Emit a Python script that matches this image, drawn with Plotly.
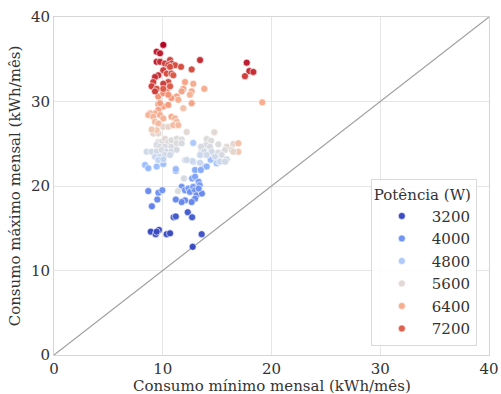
import plotly.graph_objects as go
from plotly.colors import sample_colorscale

# ---- data ----
consumo_min = [
    # ~3200 W
    8.9, 9.35, 9.65, 10.36, 10.67, 13.58, 12.75, 11.0, 11.2, 12.3, 12.7, 9.44,
    # ~4000 W
    8.67, 9.6, 9.96, 9.5, 9.0, 11.2, 11.74, 12.05, 12.35, 12.5, 12.8, 12.97, 12.7, 12.97,
    13.3, 13.4, 13.1, 13.6, 12.97, 12.66, 12.05, 11.74, 11.2, 13.7, 12.97, 13.3, 11.95, 11.4,
    # ~4800 W
    8.37, 8.67, 9.44, 10.05, 11.2, 12.8, 14.4, 14.96, 15.1, 14.04, 13.5, 12.81,
    # ~5600 W (cluster 1)
    9.13, 9.59, 10.05, 10.51, 9.59, 9.9, 10.2, 10.51, 10.8, 11.28, 11.74, 9.44, 9.75, 10.2,
    10.8, 11.28, 11.74, 8.52, 8.98, 9.44, 9.9, 10.36, 10.8, 11.28, 9.29, 9.75, 10.2, 10.67,
    9.59, 10.05, 12.05, 12.72, 13.89, 13.58, 13.89, 14.65,
    # ~5600 W (cluster 2)
    12.2, 14.74, 14.04, 14.44, 15.11, 13.98, 13.52, 14.34, 15.88, 16.49, 13.82, 14.5, 15.11,
    15.72, 16.34, 16.95, 16.95, 16.49, 13.43, 14.04, 14.8, 15.42, 15.88, 15.26, 15.72, 13.43, 12.2,
    # ~6400 W
    9.59, 10.05, 10.51, 9.59, 9.29, 8.83, 8.67, 9.13, 9.75, 10.05, 9.29, 9.59, 9.44, 8.98,
    10.8, 11.13, 11.28, 10.97, 11.43, 12.66, 11.89, 12.05, 12.81, 11.89, 11.74, 12.66, 13.82,
    12.5, 11.28, 10.8, 11.43, 9.59, 9.75, 10.36, 10.05, 10.51, 19.15,
    # ~7200 W
    10.05, 9.44, 9.75, 9.44, 9.75, 10.2, 10.67, 10.8, 10.51, 11.13, 11.68, 10.05, 10.67, 10.36,
    10.8, 9.59, 9.29, 10.97, 10.51, 10.05, 9.13, 8.98, 9.44, 9.29, 10.05, 10.67, 13.43, 12.66,
    17.72, 17.96, 18.33, 17.56,
]
consumo_max = [
    14.6, 14.3, 14.8, 14.3, 14.4, 14.3, 12.8, 16.3, 16.4, 16.9, 16.3, 14.6,
    19.4, 19.2, 19.5, 18.4, 17.6, 21.8, 19.9, 19.5, 19.7, 19.3, 19.9, 19.5, 20.9, 21.1,
    20.5, 20.1, 18.9, 19.1, 18.5, 18.1, 18.3, 18.1, 18.4, 22.3, 21.9, 19.7, 20.9, 19.4,
    22.5, 22.1, 22.3, 22.6, 22.0, 25.1, 23.1, 22.7, 22.9, 22.3, 21.9, 22.88,
    26.2, 26.2, 27.0, 27.0, 25.2, 25.2, 25.6, 25.2, 25.4, 25.6, 25.5, 24.85, 24.65, 24.65,
    24.65, 25.05, 25.05, 24.06, 24.06, 24.06, 24.26, 24.06, 24.06, 24.3, 23.47, 23.47, 23.67, 23.67,
    23.08, 23.16, 23.08, 22.96, 24.65, 24.06, 23.67, 23.87,
    26.4, 26.35, 25.56, 25.36, 24.93, 24.85, 24.65, 24.65, 24.65, 24.97, 24.06, 24.06, 23.94,
    24.26, 24.26, 24.06, 25.05, 24.06, 23.67, 23.67, 23.47, 23.67, 23.16, 22.88, 22.88, 22.76, 23.08,
    29.7, 29.4, 29.6, 29.0, 28.6, 28.6, 28.4, 28.2, 28.4, 28.0, 27.6, 27.4, 26.6, 26.7,
    28.2, 28.0, 27.6, 27.2, 27.2, 29.8, 29.2, 32.3, 32.1, 31.5, 31.2, 31.2, 31.5,
    30.8, 30.6, 30.4, 30.2, 30.6, 29.8, 31.4, 31.0, 30.8, 29.9,
    36.7, 35.9, 35.7, 34.7, 34.7, 34.5, 34.9, 34.5, 34.3, 34.3, 34.1, 33.7, 34.1, 33.3,
    33.3, 33.1, 32.9, 33.1, 32.3, 32.1, 32.3, 31.8, 31.5, 31.2, 31.5, 31.8, 34.9, 33.8,
    34.6, 33.6, 33.5, 33.0,
]
potencia = [
    3150, 3250, 3200, 3250, 3200, 3300, 3100, 3400, 3350, 3400, 3400, 3200,
    3900, 4000, 4000, 3900, 3800, 4300, 4000, 4000, 4100, 4000, 4100, 4000, 4200, 4200,
    4100, 4100, 3900, 3900, 3900, 3850, 3900, 3850, 3900, 4300, 4300, 4000, 5400, 5500,
    4600, 4500, 4600, 4600, 4500, 4800, 4600, 4500, 4600, 4400, 4300, 4700,
    5700, 5600, 5700, 5700, 5500, 5500, 5600, 5500, 5500, 5500, 5500, 5400, 5400, 5400,
    5400, 5500, 5400, 5300, 5300, 5300, 5400, 5300, 5300, 5400, 5200, 5200, 5300, 5300,
    5100, 5100, 5300, 5200, 5400, 5400, 5300, 5300,
    5600, 5600, 5500, 5500, 5500, 5400, 5400, 5400, 5600, 5700, 5300, 5300, 5400,
    5500, 5600, 6000, 6100, 5700, 5200, 5300, 5300, 5400, 5300, 5200, 5300, 5200, 5300,
    6600, 6500, 6600, 6500, 6400, 6400, 6300, 6300, 6400, 6300, 6200, 6200, 6000, 6000,
    6400, 6300, 6200, 6200, 6200, 6500, 6100, 6500, 6400, 6500, 6500, 6400, 6400,
    6300, 6500, 6600, 6400, 6700, 6600, 6900, 6800, 6700, 6400,
    7800, 7650, 7650, 7650, 7550, 7450, 7450, 7450, 7450, 7350, 7350, 7450, 7350, 7350,
    7350, 7550, 7550, 7250, 7350, 7450, 7450, 7450, 7350, 7450, 7250, 7250, 7550, 7350,
    7650, 7550, 7550, 7450,
]
legend_values = [3200, 4000, 4800, 5600, 6400, 7200]
axis_ticks = [0, 10, 20, 30, 40]
diag = [0, 40]

# ---- style ----
coolwarm = [
    [0.0, "#3b4cc0"], [0.1, "#5977e3"], [0.2, "#7b9ff9"], [0.3, "#9ebeff"],
    [0.4, "#c0d4f5"], [0.5, "#dddcdc"], [0.6, "#f2cbb7"], [0.7, "#f7ac8e"],
    [0.8, "#ee8468"], [0.9, "#d65244"], [1.0, "#b40426"],
]
cmin, cmax = 3200, 7800
font_family = "DejaVu Serif"
text_color = "#333333"

fig = go.Figure()

fig.add_trace(go.Scatter(
    x=diag, y=diag, mode="lines",
    line=dict(color="#a0a0a0", width=1.2),
    showlegend=False, hoverinfo="skip",
))

fig.add_trace(go.Scatter(
    x=consumo_min, y=consumo_max, mode="markers",
    marker=dict(
        size=7, color=potencia, colorscale=coolwarm, cmin=cmin, cmax=cmax,
        line=dict(color="white", width=0.6), showscale=False,
    ),
    showlegend=False,
))

for v in legend_values:
    col = sample_colorscale(coolwarm, [(v - cmin) / (cmax - cmin)])[0]
    fig.add_trace(go.Scatter(
        x=[None], y=[None], mode="markers", name=str(v),
        marker=dict(size=7, color=col, line=dict(color="white", width=0.6)),
    ))

axis_common = dict(
    range=[0, 40], tickvals=axis_ticks, showgrid=True, gridcolor="#e6e6e6", gridwidth=1,
    showline=True, linecolor="#d6d6d6", linewidth=1, mirror=True, zeroline=False,
    ticks="", automargin=False,
    tickfont=dict(size=15, color=text_color, family=font_family),
)

fig.update_layout(
    width=501, height=394,
    margin=dict(l=54, r=12, t=17, b=39),
    paper_bgcolor="white", plot_bgcolor="white",
    font=dict(family=font_family, size=15, color=text_color),
    xaxis=dict(**axis_common),
    yaxis=dict(**axis_common, title=dict(text="Consumo máximo mensal (kWh/mês)",
                                         font=dict(size=15), standoff=6)),
    legend=dict(
        title=dict(text="Potência (W)", font=dict(size=15, color=text_color), side="top"),
        x=0.972, y=0.026, xanchor="right", yanchor="bottom",
        bordercolor="#d9d9d9", borderwidth=1, bgcolor="rgba(255,255,255,0.85)",
        font=dict(size=15, color=text_color), itemwidth=50, tracegroupgap=0,
    ),
    annotations=[dict(
        text="Consumo mínimo mensal (kWh/mês)", xref="paper", yref="paper",
        x=0.5, y=-0.092, xanchor="center", yanchor="middle", showarrow=False,
        font=dict(size=15, color=text_color, family=font_family),
    )],
)

fig.write_html("out.html")
